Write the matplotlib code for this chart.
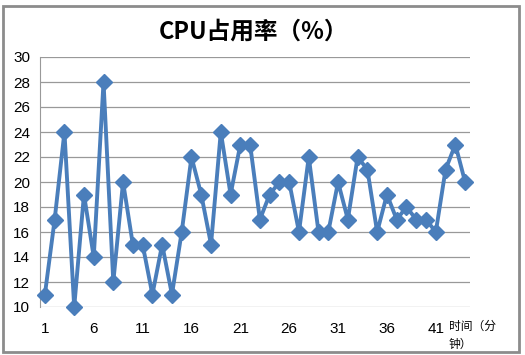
import matplotlib
matplotlib.use("Agg")
import matplotlib.pyplot as plt
from matplotlib.patches import Rectangle

plt.rcParams['font.family'] = ['Noto Sans CJK SC', 'DejaVu Sans']

# CPU usage per minute
minutes = list(range(1, 45))
cpu = [11, 17, 24, 10, 19, 14, 28, 12, 20, 15,
       15, 11, 15, 11, 16, 22, 19, 15, 24, 19,
       23, 23, 17, 19, 20, 20, 16, 22, 16, 16,
       20, 17, 22, 21, 16, 19, 17, 18, 17, 17,
       16, 21, 23, 20]
xticks = [1, 6, 11, 16, 21, 26, 31, 36, 41]
yticks = list(range(10, 31, 2))

fig = plt.figure(figsize=(5.25, 3.55), dpi=100)
ax = fig.add_axes([40/525, 1 - 307/355, 430/525, 250/355])

ax.plot(minutes, cpu, color='#4A7EBB', lw=2.8, marker='D', markersize=8,
        markerfacecolor='#4A7EBB', markeredgecolor='#4A7EBB', zorder=3,
        clip_on=False)

ax.set_xlim(0.5, 44.5)
ax.set_ylim(10, 30)
ax.set_xticks(xticks)
ax.set_yticks(yticks)
ax.grid(axis='y', color='#999999', lw=0.9)
ax.set_axisbelow(True)
for s in ['top', 'right', 'bottom']:
    ax.spines[s].set_visible(False)
ax.spines['left'].set_color('#999999')
ax.tick_params(axis='both', length=0, labelsize=11, colors='black')
ax.tick_params(axis='x', pad=11)
ax.tick_params(axis='y', pad=7)
for lab in ax.get_xticklabels() + ax.get_yticklabels():
    lab.set_family(['Liberation Sans', 'DejaVu Sans'])

fig.text(253/525, 1 - 32/355, 'CPU占用率（%）', ha='center', va='center',
         fontsize=17, fontweight='bold')
fig.text(449/525, 1 - 335/355, '时间（分\n钟）', ha='left', va='center',
         fontsize=8.5, linespacing=1.5)

fig.patches.append(Rectangle((3/525, 3/355), 516/525, 346/355,
                             transform=fig.transFigure, fill=False,
                             edgecolor='#8c8c8c', lw=2))

fig.savefig('out.png', dpi=100)
